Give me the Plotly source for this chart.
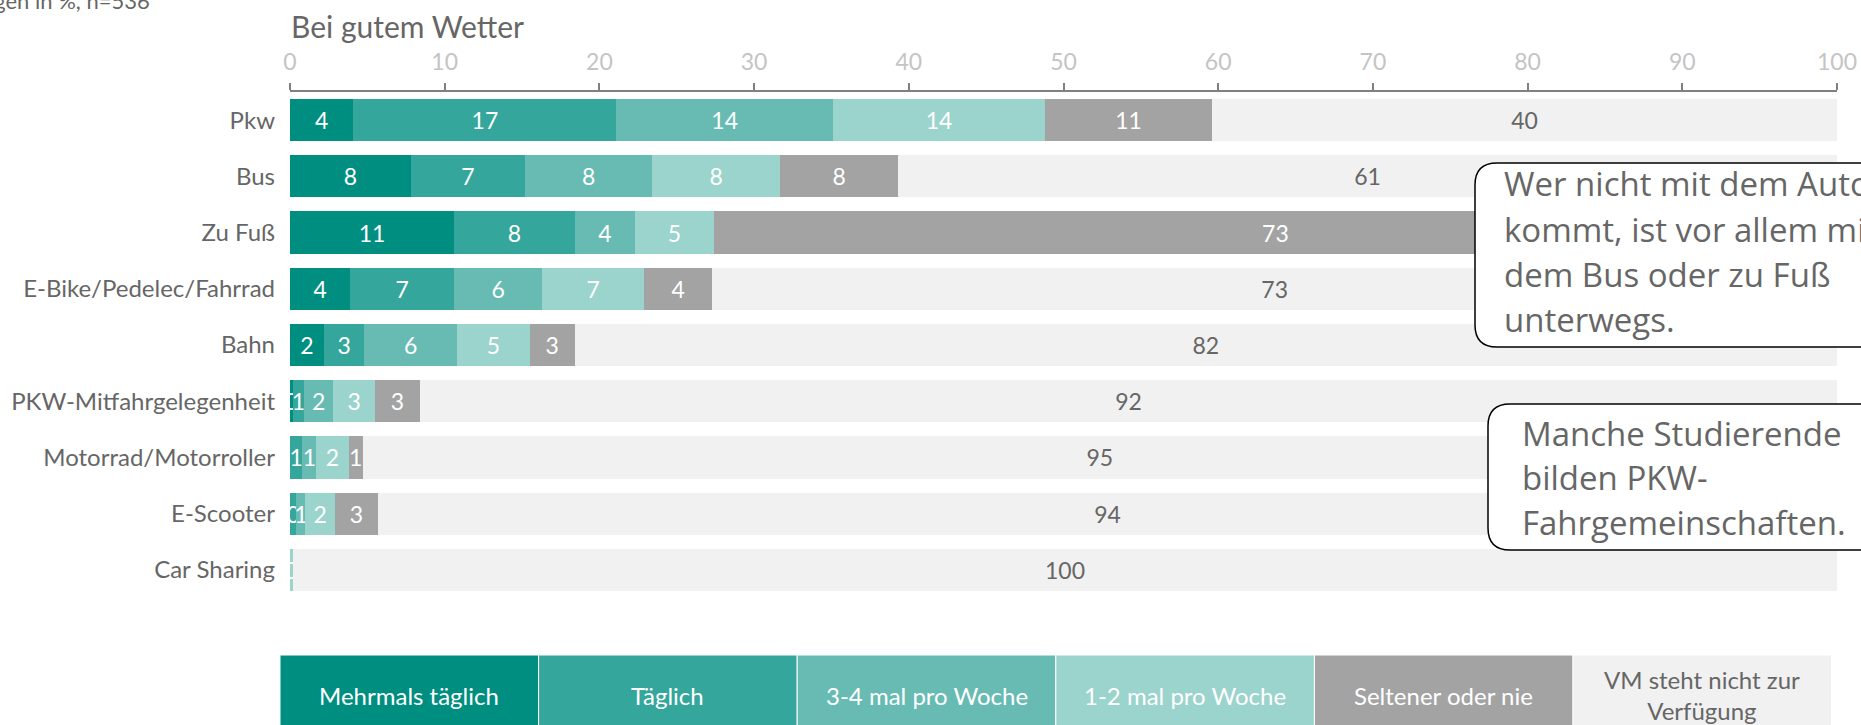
import plotly.graph_objects as go

# ---------------- data ----------------
categories = ["Pkw", "Bus", "Zu Fuß", "E-Bike/Pedelec/Fahrrad", "Bahn",
              "PKW-Mitfahrgelegenheit", "Motorrad/Motorroller", "E-Scooter", "Car Sharing"]

series_names = ["Mehrmals täglich", "Täglich", "3-4 mal pro Woche", "1-2 mal pro Woche",
                "Seltener oder nie", "VM steht nicht zur Verfügung"]

mehrmals_taeglich = [4.1, 7.8, 10.6, 3.9, 2.2, 0.2, 0.0, 0.0, 0.0]
taeglich          = [17.0, 7.4, 7.8, 6.7, 2.6, 0.7, 0.8, 0.4, 0.0]
drei_vier_woche   = [14.0, 8.2, 3.9, 5.7, 6.0, 1.9, 0.9, 0.6, 0.0]
ein_zwei_woche    = [13.7, 8.3, 5.1, 6.6, 4.7, 2.7, 2.1, 1.9, 0.2]
seltener_nie      = [10.8, 7.6, 72.6, 4.4, 2.9, 2.9, 0.9, 2.8, 0.0]
nicht_verfuegbar  = [40.4, 60.7, 0.0, 72.7, 81.6, 91.6, 95.3, 94.3, 99.8]

tick_values = list(range(0, 101, 10))

series_values = [mehrmals_taeglich, taeglich, drei_vier_woche, ein_zwei_woche,
                 seltener_nie, nicht_verfuegbar]
colors = ["#008e80", "#34a69b", "#67bbb3", "#9bd3cd", "#a3a3a3", "#f1f1f1"]
text_colors = ["white", "white", "white", "white", "white", "#666666"]
legend_labels = ["Mehrmals täglich", "Täglich", "3-4 mal pro Woche", "1-2 mal pro Woche",
                 "Seltener oder nie", "VM steht nicht zur<br>Verfügung"]

callout_1_lines = ["Wer nicht mit dem Auto", "kommt, ist vor allem mit",
                   "dem Bus oder zu Fuß", "unterwegs."]
callout_2_lines = ["Manche Studierende", "bilden PKW-", "Fahrgemeinschaften."]

FONT = "Lato"
GREY = "#666666"

# ---------------- layout geometry (pixels) ----------------
WIDTH, HEIGHT = 1861, 725
L, R, T, B = 290, 1837, 92, 598
PW, PH = R - L, B - T


def px_x(px):
    return (px - L) / PW


def px_y(py):
    return (B - py) / PH


fig = go.Figure()
for name, vals, col, tcol in zip(series_names, series_values, colors, text_colors):
    labels = [f"{v:.0f}" if v > 0 else "" for v in vals]
    fig.add_trace(go.Bar(
        y=categories, x=vals, name=name, orientation="h",
        marker=dict(color=col, line=dict(width=0)),
        text=labels, textposition="inside", insidetextanchor="middle",
        textangle=0, textfont=dict(family=FONT, size=23, color=tcol),
        hoverinfo="x+y+name", showlegend=False,
    ))


def rounded_rect(x0, y0, x1, y1, r):
    pts = lambda x, y: f"{px_x(x):.5f},{px_y(y):.5f}"
    return (f"M {pts(x0 + r, y0)} L {pts(x1 - r, y0)} Q {pts(x1, y0)} {pts(x1, y0 + r)} "
            f"L {pts(x1, y1 - r)} Q {pts(x1, y1)} {pts(x1 - r, y1)} "
            f"L {pts(x0 + r, y1)} Q {pts(x0, y1)} {pts(x0, y1 - r)} "
            f"L {pts(x0, y0 + r)} Q {pts(x0, y0)} {pts(x0 + r, y0)} Z")


shapes = []
annotations = []

# callout boxes (box left, top, right, bottom, text left, first line y, line step)
callouts = [
    (1475, 163, 1930, 347, 1502, 184, 45, callout_1_lines),
    (1488, 404, 1930, 550, 1520, 433, 44.5, callout_2_lines),
]
for x0, y0, x1, y1, tx, ty, step, lines in callouts:
    shapes.append(dict(type="path", xref="paper", yref="paper", layer="above",
                       path=rounded_rect(x0, y0, x1, y1, 22),
                       fillcolor="white", line=dict(color="black", width=1.5)))
    for k, line in enumerate(lines):
        annotations.append(dict(xref="paper", yref="paper", x=px_x(tx), y=px_y(ty + k * step),
                                xanchor="left", yanchor="middle", align="left",
                                showarrow=False, text=line,
                                font=dict(family="Open Sans", size=33, color=GREY)))

# legend boxes
lx0, lstep = 280, 258.6
for i, (lab, col, tcol) in enumerate(zip(legend_labels, colors, text_colors)):
    x0 = lx0 + i * lstep
    shapes.append(dict(type="rect", xref="paper", yref="paper", layer="above",
                       x0=px_x(x0), x1=px_x(x0 + lstep), y0=px_y(655), y1=px_y(740),
                       fillcolor=col, line=dict(color="white", width=1)))
    annotations.append(dict(xref="paper", yref="paper", x=px_x(x0 + lstep / 2), y=px_y(695),
                            xanchor="center", yanchor="middle", showarrow=False,
                            text=lab, font=dict(family=FONT, size=24, color=tcol)))

# titles
annotations.append(dict(xref="paper", yref="paper", x=px_x(289), y=px_y(26),
                        xanchor="left", yanchor="middle", showarrow=False,
                        text="Bei gutem Wetter",
                        font=dict(family=FONT, size=30, color=GREY)))
annotations.append(dict(xref="paper", yref="paper", x=px_x(152), y=px_y(1),
                        xanchor="right", yanchor="middle", showarrow=False,
                        text="Nennungen in %, n=536",
                        font=dict(family=FONT, size=22, color=GREY)))

fig.update_layout(
    width=WIDTH, height=HEIGHT,
    barmode="stack", bargap=0.25,
    margin=dict(l=L, r=WIDTH - R, t=T, b=HEIGHT - B, autoexpand=False),
    paper_bgcolor="white", plot_bgcolor="white",
    font=dict(family=FONT, color=GREY),
    uniformtext=dict(mode="show", minsize=23),
    shapes=shapes, annotations=annotations,
    xaxis=dict(side="top", range=[0, 100], tickvals=tick_values,
               showgrid=False, zeroline=False, showline=True,
               linecolor="#808080", linewidth=1.5, ticks="outside", ticklen=7,
               tickcolor="#808080", tickwidth=1.5, ticklabelstandoff=4,
               tickfont=dict(family=FONT, size=23, color="#c4c4c4")),
    yaxis=dict(autorange="reversed", showgrid=False, zeroline=False, showline=False,
               ticks="", ticklabelstandoff=14,
               tickfont=dict(family=FONT, size=24, color=GREY)),
)

fig.write_html("out.html", config={"displayModeBar": False},
               post_script="document.body.style.margin='0';document.body.style.overflow='hidden';")
